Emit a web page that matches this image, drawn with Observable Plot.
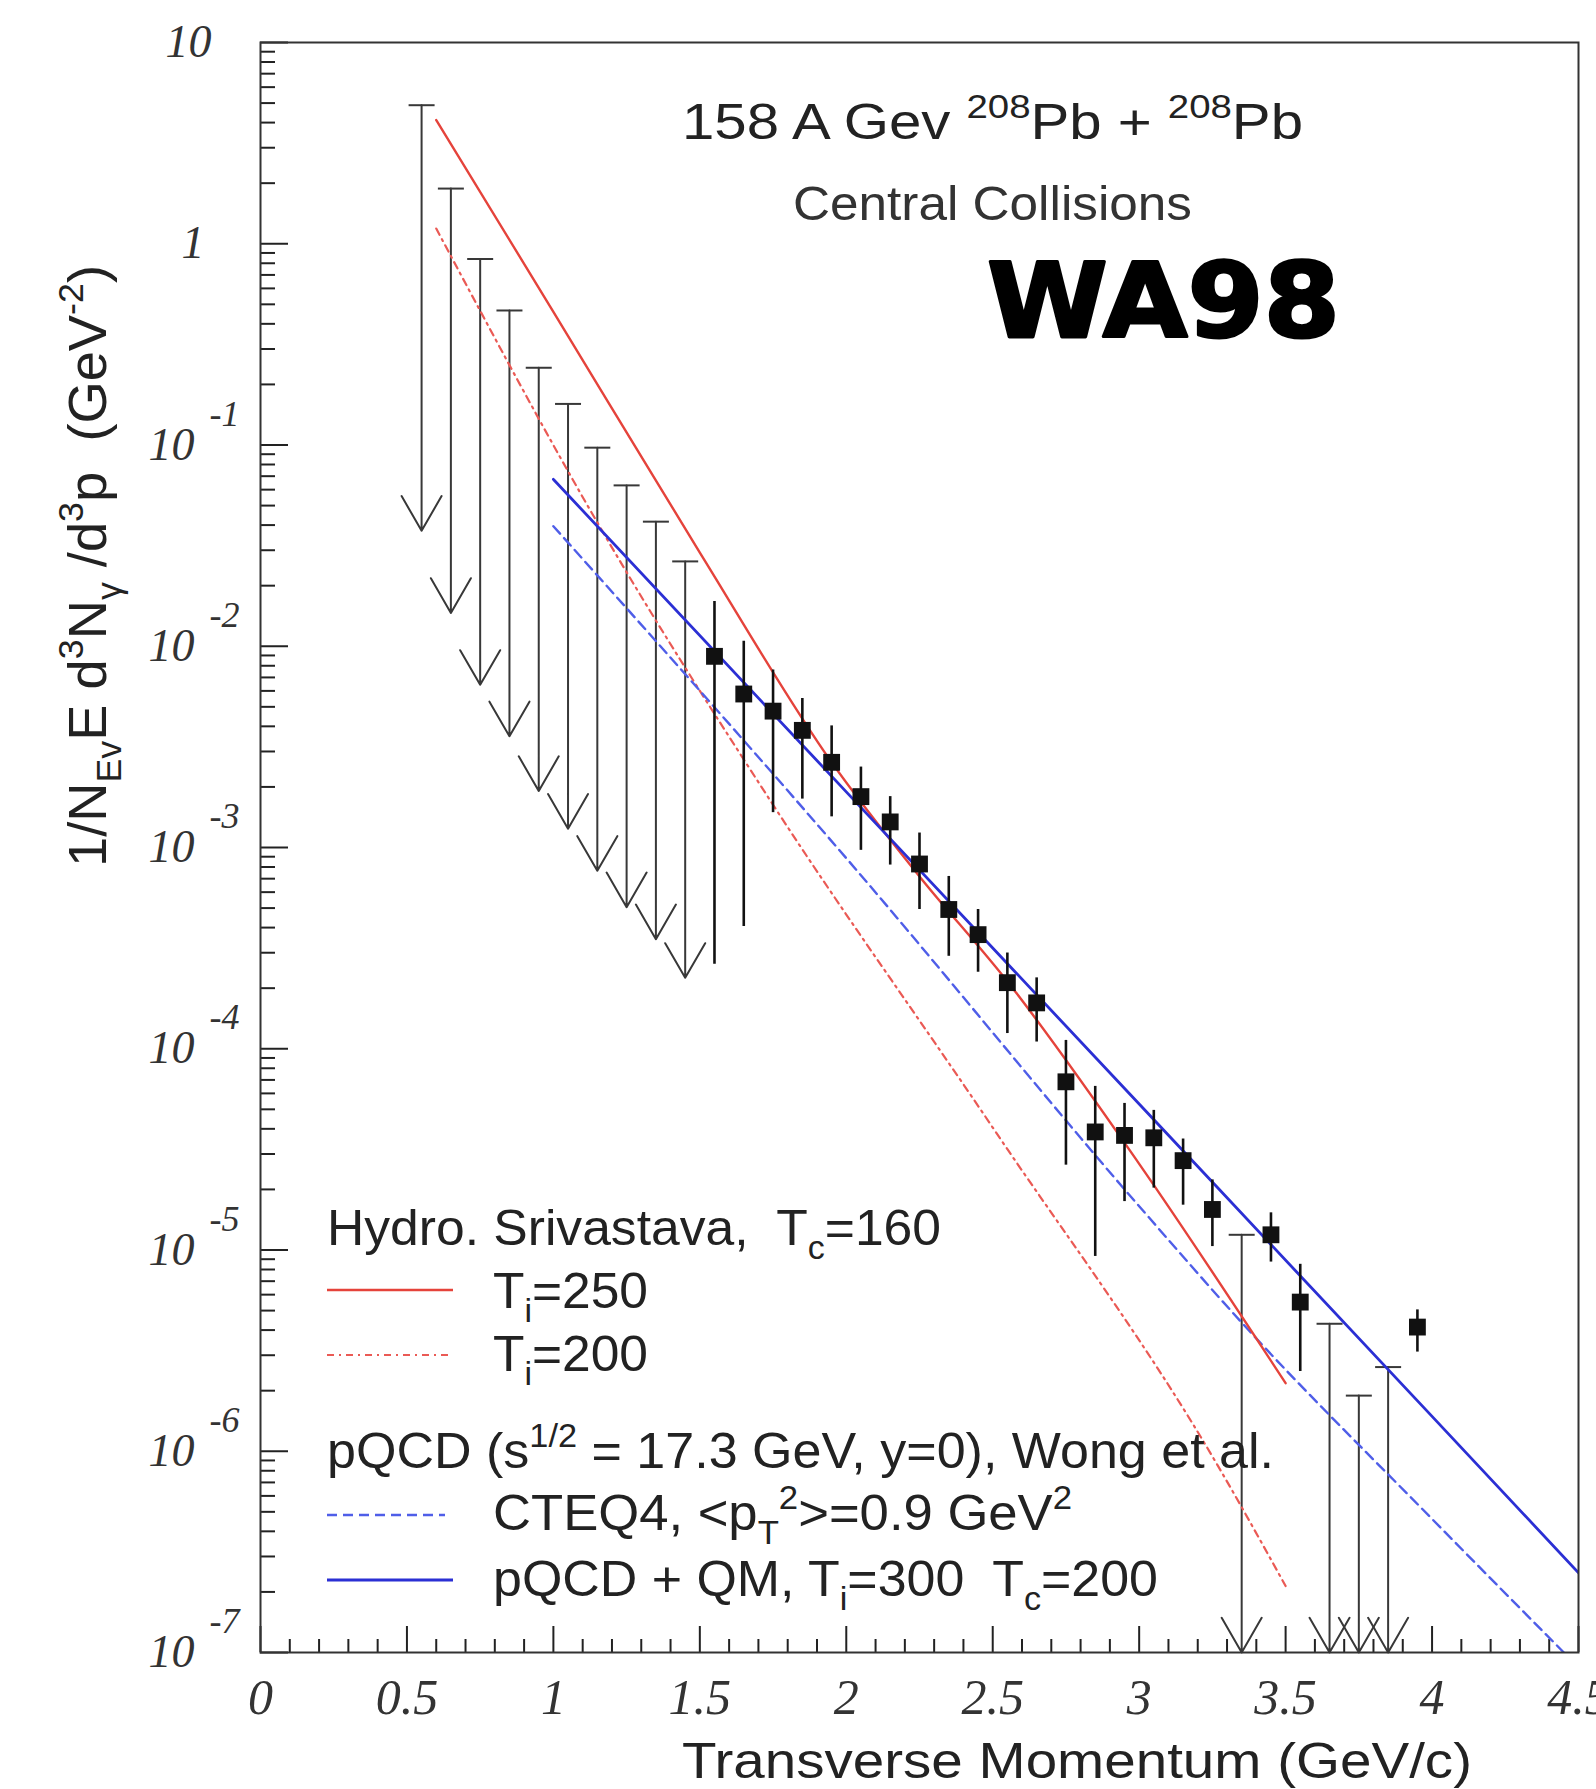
<!DOCTYPE html>
<html><head><meta charset="utf-8">
<script src="https://cdn.jsdelivr.net/npm/d3@7"></script>
<script src="https://cdn.jsdelivr.net/npm/@observablehq/plot@0.6"></script>
<style>html,body{margin:0;padding:0;background:#fff;overflow:hidden;} svg{display:block}</style>
</head><body><div id="chart"></div>
<script>
// ---------- data ----------
// upper limits (90% CL) : pT, top value, end of arrow
const ulPt  = [0.55, 0.65, 0.75, 0.85, 0.95, 1.05, 1.15, 1.25, 1.35, 1.45, 3.35, 3.65, 3.75, 3.85];
const ulTop = [4.88, 1.88, 0.84, 0.466, 0.242, 0.16, 0.097, 0.063, 0.0416, 0.0264, 1.19e-5, 4.3e-6, 1.89e-6, 2.62e-6];
const ulTip = [0.0375, 0.01465, 0.00643, 0.00357, 0.00191, 0.00124, 0.000766, 0.000505, 0.00035, 0.000225, 1e-7, 1e-7, 1e-7, 1e-7];

// measured points
const ptX  = [1.55, 1.65, 1.75, 1.85, 1.95, 2.05, 2.15, 2.25, 2.35, 2.45, 2.55, 2.65, 2.75, 2.85, 2.95, 3.05, 3.15, 3.25, 3.45, 3.55, 3.95];
const ptY  = [8.91e-3, 5.79e-3, 4.76e-3, 3.82e-3, 2.65e-3, 1.79e-3, 1.34e-3, 8.28e-4, 4.92e-4, 3.69e-4, 2.13e-4, 1.69e-4, 6.85e-5, 3.86e-5, 3.71e-5, 3.61e-5, 2.78e-5, 1.59e-5, 1.19e-5, 5.51e-6, 4.14e-6];
const ptHi = [1.67e-2, 1.06e-2, 7.62e-3, 5.50e-3, 4.02e-3, 2.51e-3, 1.79e-3, 1.18e-3, 7.18e-4, 4.92e-4, 2.99e-4, 2.25e-4, 1.10e-4, 6.50e-5, 5.35e-5, 4.94e-5, 3.56e-5, 2.23e-5, 1.53e-5, 8.49e-6, 5.04e-6];
const ptLo = [2.63e-4, 4.05e-4, 1.49e-3, 1.74e-3, 1.42e-3, 9.68e-4, 8.18e-4, 4.92e-4, 2.88e-4, 2.40e-4, 1.19e-4, 1.08e-4, 2.64e-5, 9.29e-6, 1.74e-5, 2.03e-5, 1.67e-5, 1.04e-5, 8.71e-6, 2.49e-6, 3.11e-6];

// model curves
const hydro250X = [0.6, 1.0, 1.5, 1.95, 2.25, 2.55, 3.0, 3.5];
const hydro250Y = [4.12, 0.459, 0.0292, 2.65e-3, 7.18e-4, 2.16e-4, 2.68e-5, 2.18e-6];
const hydro200X = [0.6, 1.17, 1.75, 2.5, 3.27, 3.5];
const hydro200Y = [1.19, 0.0367, 1.63e-3, 4.06e-5, 8.41e-7, 2.14e-7];
const cteqX = [1.0, 2.0, 3.0, 3.35, 4.0, 4.45];
const cteqY = [0.0395, 8.85e-4, 1.65e-5, 4.36e-6, 4.61e-7, 1e-7];
const qmX = [1.0, 2.0, 3.0, 4.0, 4.5];
const qmY = [0.0675, 1.89e-3, 5.31e-5, 1.49e-6, 2.49e-7];

// ticks
const xTickLabels = ["0", "0.5", "1", "1.5", "2", "2.5", "3", "3.5", "4", "4.5"];
const xMajor = xTickLabels.map(Number);
const yExp = [1, 0, -1, -2, -3, -4, -5, -6, -7];

// ---------- layout ----------
const W = 1596, H = 1789, mL = 260, mR = 18, mT = 42, mB = 137;
const fW = W - mL - mR, fH = H - mT - mB;
const RED = "#e5433b", BLUE = "#2b2fd4", BLUE2 = "#4f5ee8", RED2 = "#ea5a55";

const xMinor = d3.range(0, 45).map(i => i / 10).filter(v => Math.abs(v * 2 - Math.round(v * 2)) > 1e-6);
const yMinor = [];
for (let e = -7; e < 1; e++) for (let k = 2; k <= 9; k++) yMinor.push(k * 10 ** e);

const ulIdx = d3.range(ulPt.length);
const ptIdx = d3.range(ptX.length);
const capSym = {draw(ctx) { ctx.moveTo(-13, 0); ctx.lineTo(13, 0); }};
const serif = "Liberation Serif, Times New Roman, serif";

const chart = Plot.plot({
  width: W, height: H,
  marginLeft: mL, marginRight: mR, marginTop: mT, marginBottom: mB,
  x: {domain: [0, 4.5], axis: null},
  y: {type: "log", domain: [1e-7, 10], axis: null},
  style: {background: "white", fontFamily: "Liberation Sans, Arial, sans-serif", overflow: "hidden"},
  marks: [
    // ticks (inside the frame)
    Plot.tickY(yExp, {y: e => 10 ** e, stroke: "#222", strokeWidth: 2, insetRight: fW - 28}),
    Plot.tickY(yMinor, {y: d => d, stroke: "#222", strokeWidth: 2, insetRight: fW - 15}),
    Plot.tickX(xMajor, {x: d => d, stroke: "#222", strokeWidth: 2, insetTop: fH - 26}),
    Plot.tickX(xMinor, {x: d => d, stroke: "#222", strokeWidth: 2, insetTop: fH - 13}),
    // y tick labels
    Plot.text(yExp.filter(e => e < 0), {y: e => 10 ** e, text: () => "10", frameAnchor: "left", textAnchor: "end", dx: -66, fontFamily: serif, fontStyle: "italic", fontSize: 46, fill: "#333"}),
    Plot.text(yExp.filter(e => e < 0), {y: e => 10 ** e, text: e => String(e), frameAnchor: "left", textAnchor: "start", dx: -51, dy: -31, fontFamily: serif, fontStyle: "italic", fontSize: 36, fill: "#333"}),
    Plot.text(yExp.filter(e => e === 1), {y: e => 10 ** e, text: () => "10", frameAnchor: "left", textAnchor: "end", dx: -49, fontFamily: serif, fontStyle: "italic", fontSize: 46, fill: "#333"}),
    Plot.text(yExp.filter(e => e === 0), {y: e => 10 ** e, text: () => "1", frameAnchor: "left", textAnchor: "end", dx: -56, fontFamily: serif, fontStyle: "italic", fontSize: 46, fill: "#333"}),
    // x tick labels
    Plot.text(xTickLabels, {x: d => +d, text: d => d, frameAnchor: "bottom", lineAnchor: "top", dy: 26, fontFamily: serif, fontStyle: "italic", fontSize: 50, fill: "#333"}),
    // upper limits
    Plot.arrow(ulIdx, {x1: i => ulPt[i], y1: i => ulTop[i], x2: i => ulPt[i], y2: i => ulTip[i], stroke: "#383838", strokeWidth: 2, headLength: 30, headAngle: 60}),
    Plot.dot(ulIdx, {x: i => ulPt[i], y: i => ulTop[i], symbol: capSym, stroke: "#383838", strokeWidth: 2, fill: "none"}),
    // model curves
    Plot.line(hydro200X.map((x, i) => [x, hydro200Y[i]]), {x: d => d[0], y: d => d[1], stroke: RED2, strokeWidth: 2.2, strokeDasharray: "7,5,2,5", curve: "monotone-x", clip: true}),
    Plot.line(cteqX.map((x, i) => [x, cteqY[i]]), {x: d => d[0], y: d => d[1], stroke: BLUE2, strokeWidth: 2.4, strokeDasharray: "10,6", curve: "monotone-x", clip: true}),
    Plot.line(hydro250X.map((x, i) => [x, hydro250Y[i]]), {x: d => d[0], y: d => d[1], stroke: RED, strokeWidth: 2.4, curve: "monotone-x", clip: true}),
    Plot.line(qmX.map((x, i) => [x, qmY[i]]), {x: d => d[0], y: d => d[1], stroke: BLUE, strokeWidth: 2.8, curve: "monotone-x", clip: true}),
    // data
    Plot.ruleX(ptIdx, {x: i => ptX[i], y1: i => ptLo[i], y2: i => ptHi[i], stroke: "#111", strokeWidth: 2.6}),
    Plot.dot(ptIdx, {x: i => ptX[i], y: i => ptY[i], symbol: "square", r: 9.5, fill: "#111", stroke: "none"}),
    Plot.frame({stroke: "#333", strokeWidth: 2})
  ]
});
document.getElementById("chart").append(chart);

// ---------- annotations ----------
const svg = d3.select(chart);
const sans = "Liberation Sans, Arial, Helvetica, sans-serif";
function rich(x, y, parts, o) {
  const t = svg.append("text").attr("x", x).attr("y", y)
    .attr("font-family", o.family || sans).attr("font-size", o.size)
    .attr("fill", o.fill || "#222")
    .attr("text-anchor", o.anchor || "start");
  if (o.weight) t.attr("font-weight", o.weight);
  if (o.len) t.attr("textLength", o.len).attr("lengthAdjust", "spacingAndGlyphs");
  if (o.transform) t.attr("transform", o.transform);
  if (o.stroke) t.attr("stroke", o.stroke).attr("stroke-width", o.strokeWidth).attr("stroke-linejoin", "round");
  let cur = 0;
  for (const p of parts) {
    const [s, k] = typeof p === "string" ? [p, null] : p;
    const target = k === "sup" ? -0.42 * o.size : k === "sub" ? 0.28 * o.size : 0;
    t.append("tspan").attr("dy", target - cur).attr("font-size", k ? 0.66 * o.size : o.size).text(s);
    cur = target;
  }
  return t;
}
function sample(x1, x2, y, color, dash, w) {
  svg.append("line").attr("x1", x1).attr("x2", x2).attr("y1", y).attr("y2", y)
    .attr("stroke", color).attr("stroke-width", w).attr("stroke-dasharray", dash || null);
}

// header
rich(682, 139, ["158 A Gev ", ["208", "sup"], "Pb + ", ["208", "sup"], "Pb"], {size: 50, len: 621});
rich(793, 220, ["Central Collisions"], {size: 48, len: 399, fill: "#333"});
rich(987, 337, ["WA98"], {size: 104, len: 353, family: "DejaVu Sans, sans-serif", weight: "bold", fill: "#000", stroke: "#000", strokeWidth: 3});

// axis titles
rich(1472, 1778, ["Transverse Momentum (GeV/c)"], {size: 50, len: 790, anchor: "end"});
rich(0, 0, ["1/N", ["Ev", "sub"], "E d", ["3", "sup"], "N", ["\u03b3", "sub"], " /d", ["3", "sup"], "p  (GeV", ["-2", "sup"], ")"],
  {size: 54, len: 602, anchor: "middle", transform: "translate(106,566) rotate(-90)"});

// legend
rich(327, 1245, ["Hydro. Srivastava,  T", ["c", "sub"], "=160"], {size: 50, len: 614});
sample(327, 453, 1290, RED, null, 2.4);
rich(493, 1308, ["T", ["i", "sub"], "=250"], {size: 50, len: 155});
sample(327, 453, 1355, RED2, "7,5,2,5", 2.2);
rich(493, 1371, ["T", ["i", "sub"], "=200"], {size: 50, len: 155});
rich(327, 1468, ["pQCD (s", ["1/2", "sup"], " = 17.3 GeV, y=0), Wong et al."], {size: 50, len: 947});
sample(327, 445, 1515, BLUE2, "10,6", 2.4);
rich(493, 1530, ["CTEQ4, <p", ["T", "sub"], ["2", "sup"], ">=0.9 GeV", ["2", "sup"]], {size: 50, len: 579});
sample(327, 453, 1580, BLUE, null, 2.8);
rich(493, 1596, ["pQCD + QM, T", ["i", "sub"], "=300  T", ["c", "sub"], "=200"], {size: 50, len: 665});
</script></body></html>
